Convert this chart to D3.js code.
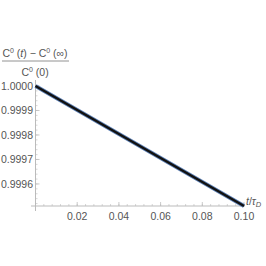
<!DOCTYPE html>
<html>
<head>
<meta charset="utf-8">
<script src="https://cdn.jsdelivr.net/npm/d3@7"></script>
<style>
  body { margin: 0; background: #fff; }
  text { font-family: "Liberation Sans", Arial, sans-serif; fill: #555; }
</style>
</head>
<body>
<div id="chart"></div>
<script>
// values
const tValues = [0, 0.02, 0.04, 0.06, 0.08, 0.10];
const ratioValues = [1.0, 0.999902, 0.999804, 0.999706, 0.999608, 0.99951];
const xTicks = [0.02, 0.04, 0.06, 0.08, 0.10];
const yTicks = [1.0, 0.9999, 0.9998, 0.9997, 0.9996];

const width = 266, height = 266;

const svg = d3.select('#chart').append('svg')
  .attr('width', width)
  .attr('height', height);

// scales
const x = d3.scaleLinear().domain([0, 0.1]).range([35.5, 244]);
const y = d3.scaleLinear().domain([0.99951, 1.0]).range([206, 86]);

const axisColor = '#bbb';

// x axis
svg.append('line')
  .attr('x1', 31).attr('x2', 245)
  .attr('y1', y(0.99951)).attr('y2', y(0.99951))
  .attr('stroke', axisColor).attr('stroke-width', 1);

// y axis
svg.append('line')
  .attr('x1', x(0)).attr('x2', x(0))
  .attr('y1', 80).attr('y2', 211)
  .attr('stroke', axisColor).attr('stroke-width', 1);

// minor ticks on x
const xMinor = d3.range(0.004, 0.1001, 0.004);
svg.selectAll('.xminor').data(xMinor).enter().append('line')
  .attr('x1', d => x(d)).attr('x2', d => x(d))
  .attr('y1', y(0.99951)).attr('y2', y(0.99951) - 2)
  .attr('stroke', axisColor).attr('stroke-width', 0.6);

svg.selectAll('.xmajor').data(xTicks).enter().append('line')
  .attr('x1', d => x(d)).attr('x2', d => x(d))
  .attr('y1', y(0.99951)).attr('y2', y(0.99951) - 4)
  .attr('stroke', axisColor).attr('stroke-width', 0.8);

svg.selectAll('.xlabel').data(xTicks).enter().append('text')
  .attr('x', d => x(d))
  .attr('y', y(0.99951) + 14)
  .attr('text-anchor', 'middle')
  .attr('font-size', 10.5)
  .text(d => d.toFixed(2));

// minor ticks on y
const yMinor = d3.range(0.99952, 1.00001, 0.00002);
svg.selectAll('.yminor').data(yMinor).enter().append('line')
  .attr('x1', x(0)).attr('x2', x(0) + 2)
  .attr('y1', d => y(d)).attr('y2', d => y(d))
  .attr('stroke', axisColor).attr('stroke-width', 0.6);

svg.selectAll('.ymajor').data(yTicks).enter().append('line')
  .attr('x1', x(0)).attr('x2', x(0) + 4)
  .attr('y1', d => y(d)).attr('y2', d => y(d))
  .attr('stroke', axisColor).attr('stroke-width', 0.8);

svg.selectAll('.ylabel').data(yTicks).enter().append('text')
  .attr('x', 33)
  .attr('y', d => y(d) + 4)
  .attr('text-anchor', 'end')
  .attr('font-size', 10.5)
  .text(d => d.toFixed(4));

// the curve: blue outline with black core
const pts = tValues.map((t, i) => [t, ratioValues[i]]);
const line = d3.line().x(d => x(d[0])).y(d => y(d[1]));

svg.append('path').datum(pts)
  .attr('d', line)
  .attr('fill', 'none')
  .attr('stroke', '#5e81b5')
  .attr('stroke-width', 4);

svg.append('path').datum(pts)
  .attr('d', line)
  .attr('fill', 'none')
  .attr('stroke', '#111')
  .attr('stroke-width', 2.3);

// y axis label as a fraction
const num = svg.append('text')
  .attr('x', 35).attr('y', 57)
  .attr('text-anchor', 'middle')
  .attr('font-size', 10.5);
num.append('tspan').text('C');
num.append('tspan').attr('dy', -4).attr('font-size', 7).text('0');
num.append('tspan').attr('dy', 4).text(' (');
num.append('tspan').attr('font-style', 'italic').text('t');
num.append('tspan').text(') \u2212 C');
num.append('tspan').attr('dy', -4).attr('font-size', 7).text('0');
num.append('tspan').attr('dy', 4).text(' (\u221e)');

svg.append('line')
  .attr('x1', 2).attr('x2', 69)
  .attr('y1', 61).attr('y2', 61)
  .attr('stroke', '#777').attr('stroke-width', 0.8);

const den = svg.append('text')
  .attr('x', 35).attr('y', 76)
  .attr('text-anchor', 'middle')
  .attr('font-size', 10.5);
den.append('tspan').text('C');
den.append('tspan').attr('dy', -4).attr('font-size', 7).text('0');
den.append('tspan').attr('dy', 4).text(' (0)');

// x axis label
const xl = svg.append('text')
  .attr('x', 246).attr('y', 205)
  .attr('font-size', 10.5);
xl.append('tspan').attr('font-style', 'italic').text('t');
xl.append('tspan').text('/');
xl.append('tspan').attr('font-style', 'italic').text('\u03c4');
xl.append('tspan').attr('dy', 2).attr('font-size', 7.5).attr('font-style', 'italic').text('D');
</script>
</body>
</html>
